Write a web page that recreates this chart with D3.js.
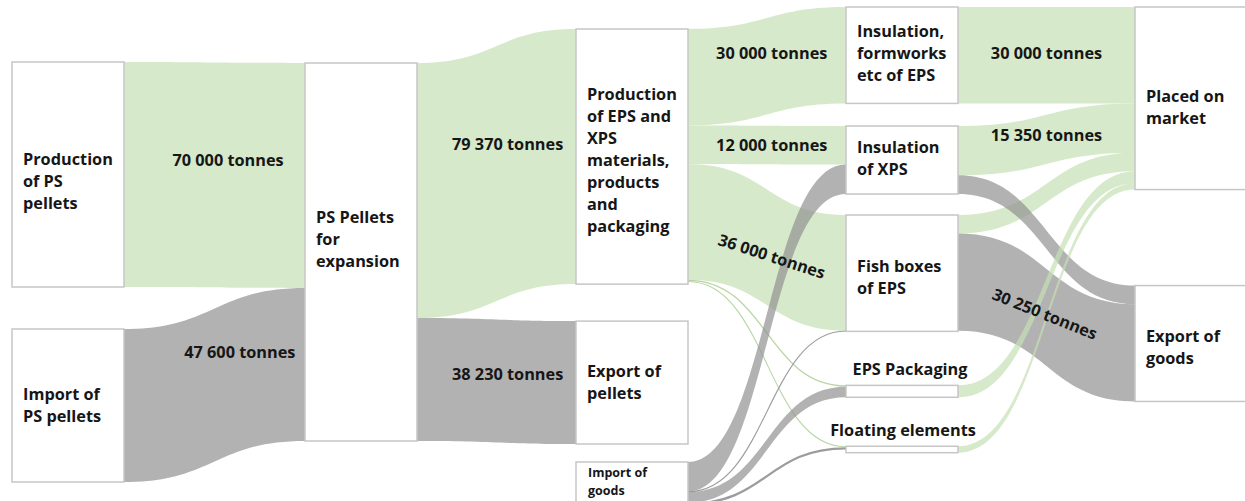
<!DOCTYPE html>
<html>
<head>
<meta charset="utf-8">
<script src="https://cdn.jsdelivr.net/npm/d3@7"></script>
<style>
  html, body { margin: 0; padding: 0; background: #ffffff; }
  svg { display: block; }
  text { font-family: "Open Sans", "Noto Sans", sans-serif; font-weight: 700; fill: #161616; }
</style>
</head>
<body>
<svg id="chart" width="1245" height="501"></svg>
<script>
// ================= DATA =================
const nodeNames = [
  "Production of PS pellets", "Import of PS pellets", "PS Pellets for expansion",
  "Production of EPS and XPS materials, products and packaging", "Export of pellets", "Import of goods",
  "Insulation, formworks etc of EPS", "Insulation of XPS", "Fish boxes of EPS", "EPS Packaging", "Floating elements",
  "Placed on market", "Export of goods"
];
const nodeLabelLines = [
  ["Production", "of PS", "pellets"], ["Import of", "PS pellets"], ["PS Pellets", "for", "expansion"],
  ["Production", "of EPS and", "XPS", "materials,", "products", "and", "packaging"], ["Export of", "pellets"], ["Import of", "goods"],
  ["Insulation,", "formworks", "etc of EPS"], ["Insulation", "of XPS"], ["Fish boxes", "of EPS"], ["EPS Packaging"], ["Floating elements"],
  ["Placed on", "market"], ["Export of", "goods"]
];
const nodeColumns = [0, 0, 1, 2, 2, 2, 3, 3, 3, 3, 3, 4, 4];

// links (drawn in this order)
const linkSources = [0, 1, 2, 2, 3, 3, 3, 3, 3, 5, 5, 5, 5, 6, 7, 8, 7, 8, 9, 10];
const linkTargets = [2, 2, 3, 4, 6, 7, 8, 9, 10, 7, 8, 9, 10, 11, 11, 11, 12, 12, 11, 11];
const linkValues  = [70000, 47600, 79370, 38230, 30000, 12000, 36000, 400, 300,
                     9150, 200, 3300, 700, 30000, 15350, 5750, 5800, 30250, 3700, 2000];
const linkKinds   = ["green", "gray", "green", "gray", "green", "green", "green", "green", "green",
                     "gray", "gray", "gray", "gray", "green", "green", "green", "gray", "gray", "green", "green"];
const linkLabelled = [true, true, true, true, true, true, true, false, false,
                      false, false, false, false, true, true, false, false, true, false, false];
const unitLabel = "tonnes";

// ================= LAYOUT / STYLE =================
const columnX = [12, 305, 576, 846, 1135];
const nodeWidth = 112;
const tallestNode = 378;
const nodeGapAbove = [62, 42, 63, 29, 37, 18, 7, 22.6, 21, 54, 49, 7, 96];
const nodeLabelStyle = ["in", "in", "in", "in", "in", "small", "in", "in", "in", "above", "above", "in", "in"];
const nodeLabelDy = [7, 0, -13, 4, 0, 0, -2, -2, 4, 0, 0, 9, 4];
const nodeLabelDx = [0, 0, 0, 0, 0, 0, 0, 0, 0, 8, 1, 0, 0];
const labelFrac = [0.575, 0.64, 0.57, 0.57, 0.53, 0.53, 0.53, 0, 0, 0, 0, 0, 0, 0.5, 0.5, 0, 0, 0.49, 0, 0];
const labelDy   = [-15, -22, -25, -7, -12, 0, 6, 0, 0, 0, 0, 0, 0, -2, -4, 0, 0, -2, 0, 0];
const labelRotate = [false, false, false, false, false, false, true, false, false, false, false, false, false,
                     false, false, false, false, true, false, false];
const colors = {
  green: { fill: "#c5dfb3", opacity: 0.7, thin: "#b7d5a2" },
  gray:  { fill: "#919191", opacity: 0.7, thin: "#9c9c9c" }
};
const fontSize = 16.3, lineHeight = 22;

// ================= BUILD =================
const svg = d3.select("#chart");
const nodes = nodeNames.map((name, i) => ({ index: i, name, col: nodeColumns[i], lines: nodeLabelLines[i], inLinks: [], outLinks: [] }));
const links = linkSources.map((s, i) => ({
  index: i, source: nodes[s], target: nodes[linkTargets[i]], value: linkValues[i], kind: linkKinds[i]
}));
links.forEach(l => { l.source.outLinks.push(l); l.target.inLinks.push(l); });
nodes.forEach(n => {
  n.value = Math.max(d3.sum(n.inLinks, l => l.value), d3.sum(n.outLinks, l => l.value));
});

const vScale = d3.scaleLinear().domain([0, d3.max(nodes, n => n.value)]).range([0, tallestNode]);
const xScale = d3.scaleOrdinal().domain(d3.range(columnX.length)).range(columnX);

d3.groups(nodes, n => n.col).forEach(([c, ns]) => {
  let y = 0;
  ns.forEach(n => {
    y += nodeGapAbove[n.index];
    n.y0 = y; n.y1 = y + vScale(n.value); y = n.y1;
    n.x0 = xScale(c); n.x1 = n.x0 + nodeWidth;
  });
});
nodes.forEach(n => {
  let y = n.y0;
  n.outLinks.slice().sort((a, b) => a.target.y0 - b.target.y0).forEach(l => { l.sy0 = y; y += vScale(l.value); l.sy1 = y; });
  y = n.y0;
  n.inLinks.slice().sort((a, b) => a.source.y0 - b.source.y0).forEach(l => { l.ty0 = y; y += vScale(l.value); l.ty1 = y; });
});

function bandPath(l) {
  const p = d3.path();
  const x0 = l.source.x1, x1 = l.target.x0, xm = (x0 + x1) / 2;
  p.moveTo(x0, l.sy0);
  p.bezierCurveTo(xm, l.sy0, xm, l.ty0, x1, l.ty0);
  p.lineTo(x1, l.ty1);
  p.bezierCurveTo(xm, l.ty1, xm, l.sy1, x0, l.sy1);
  p.closePath();
  return p.toString();
}
const thinLink = d3.linkHorizontal()
  .source(l => [l.source.x1, (l.sy0 + l.sy1) / 2])
  .target(l => [l.target.x0, (l.ty0 + l.ty1) / 2]);

const gLinks = svg.append("g");
links.forEach(l => {
  const w = vScale(l.value);
  const c = colors[l.kind];
  if (w < 2.5) {
    gLinks.append("path").attr("d", thinLink(l))
      .attr("fill", "none").attr("stroke", c.thin).attr("stroke-width", Math.max(w, 1.1));
  } else {
    gLinks.append("path").attr("d", bandPath(l))
      .attr("fill", c.fill).attr("fill-opacity", c.opacity);
  }
});

// nodes
const gNodes = svg.append("g");
nodes.forEach(n => {
  gNodes.append("rect")
    .attr("x", n.x0).attr("y", n.y0)
    .attr("width", nodeWidth).attr("height", Math.max(n.y1 - n.y0, 1))
    .attr("fill", "#ffffff").attr("stroke", "#c6c6c6").attr("stroke-width", 1.5);
});

// node labels
const gNodeLabels = svg.append("g");
nodes.forEach(n => {
  const style = nodeLabelStyle[n.index];
  if (style === "in") {
    const k = n.lines.length;
    const cy = (n.y0 + n.y1) / 2 + nodeLabelDy[n.index];
    const t = gNodeLabels.append("text").attr("font-size", fontSize);
    n.lines.forEach((line, i) => {
      t.append("tspan").attr("x", n.x0 + 11)
        .attr("y", cy + (i - (k - 1) / 2) * lineHeight).attr("dy", "0.35em").text(line);
    });
  } else if (style === "small") {
    const t = gNodeLabels.append("text").attr("font-size", 12.5);
    n.lines.forEach((line, i) => {
      t.append("tspan").attr("x", n.x0 + 12).attr("y", n.y0 + 15 + i * 18).text(line);
    });
  } else {
    gNodeLabels.append("text").attr("font-size", fontSize).attr("text-anchor", "middle")
      .attr("x", (n.x0 + n.x1) / 2 + nodeLabelDx[n.index]).attr("y", n.y0 - 10).text(n.lines[0]);
  }
});

// link labels
const locale = d3.formatLocale({ decimal: ".", thousands: " ", grouping: [3], currency: ["", ""] });
const fmt = locale.format(",");
function solveT(f) {
  let lo = 0, hi = 1;
  for (let i = 0; i < 40; i++) {
    const m = (lo + hi) / 2;
    const x = 1.5 * m * (1 - m) + m * m * m;
    if (x < f) lo = m; else hi = m;
  }
  return (lo + hi) / 2;
}
const gLinkLabels = svg.append("g");
links.forEach(l => {
  if (!linkLabelled[l.index]) return;
  const x0 = l.source.x1, x1 = l.target.x0;
  const f = labelFrac[l.index];
  const t = solveT(f);
  const s = 3 * t * t - 2 * t * t * t;
  const sc = (l.sy0 + l.sy1) / 2, tc = (l.ty0 + l.ty1) / 2;
  const x = x0 + f * (x1 - x0);
  const y = sc + (tc - sc) * s + labelDy[l.index];
  const ang = labelRotate[l.index] ? Math.atan2(tc - sc, x1 - x0) * 180 / Math.PI : 0;
  gLinkLabels.append("text")
    .attr("font-size", fontSize).attr("text-anchor", "middle").attr("dy", "0.35em")
    .attr("transform", `translate(${x},${y}) rotate(${ang})`)
    .text(fmt(l.value) + " " + unitLabel);
});
</script>
</body>
</html>
